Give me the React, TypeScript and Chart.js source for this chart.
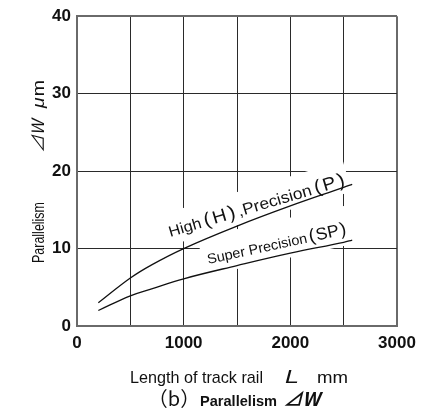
import React, { useEffect, useRef } from 'react';
import { Chart, registerables } from 'chart.js';

Chart.register(...registerables);

// ---- data ----
const lengths = [200, 500, 700, 1000, 1500, 2000, 2500, 2580];
const highPrecision = [3.0, 6.2, 7.9, 10.0, 12.9, 15.5, 17.9, 18.3];
const superPrecision = [2.0, 3.9, 4.8, 6.1, 7.8, 9.4, 10.8, 11.1];
const xTickLabels = ['0', '1000', '2000', '3000'];
const yTickLabels = ['0', '10', '20', '30', '40'];

const SANS = "'Liberation Sans', Arial, sans-serif";
const CJK = "'Noto Sans CJK JP', 'Liberation Sans', sans-serif";

type Seg = { t: string; font: string; gap?: number };
type Opts = {
  len?: number;
  align?: 'start' | 'center';
  bg?: { top: number; bottom: number; pad: number };
};

function drawGroup(
  ctx: CanvasRenderingContext2D,
  segs: Seg[],
  x: number,
  y: number,
  angle: number,
  opts: Opts = {}
) {
  ctx.save();
  ctx.translate(x, y);
  ctx.rotate(angle);
  const widths = segs.map((s) => {
    ctx.font = s.font;
    return ctx.measureText(s.t).width;
  });
  let natural = 0;
  segs.forEach((s, i) => {
    natural += widths[i] + (i < segs.length - 1 ? s.gap || 0 : 0);
  });
  const sx = opts.len ? opts.len / natural : 1;
  const drawnLen = natural * sx;
  const x0 = opts.align === 'center' ? -drawnLen / 2 : 0;
  if (opts.bg) {
    ctx.fillStyle = '#ffffff';
    ctx.fillRect(x0 - opts.bg.pad, opts.bg.top, drawnLen + opts.bg.pad * 2, opts.bg.bottom - opts.bg.top);
  }
  ctx.translate(x0, 0);
  ctx.scale(sx, 1);
  ctx.textBaseline = 'alphabetic';
  ctx.textAlign = 'left';
  ctx.fillStyle = '#111111';
  let cx = 0;
  segs.forEach((s, i) => {
    ctx.font = s.font;
    ctx.fillText(s.t, cx, 0);
    cx += widths[i] + (s.gap || 0);
  });
  ctx.restore();
}

const deg = (d: number) => (d * Math.PI) / 180;

const labelPlugin = {
  id: 'curveLabels',
  beforeDatasetsDraw(chart: any) {
    const ctx = chart.ctx as CanvasRenderingContext2D;
    const xs = chart.scales.x;
    const ys = chart.scales.y;
    // High (H), Precision (P)
    drawGroup(
      ctx,
      [
        { t: 'High', font: `15px ${SANS}`, gap: 3 },
        { t: '(', font: `19px ${SANS}`, gap: 2 },
        { t: 'H', font: `18px ${SANS}`, gap: 2 },
        { t: ')', font: `19px ${SANS}`, gap: 3 },
        { t: ',Precision', font: `16px ${SANS}`, gap: 3 },
        { t: '(', font: `19px ${SANS}`, gap: 2 },
        { t: 'P', font: `18px ${SANS}`, gap: 2 },
        { t: ')', font: `19px ${SANS}` },
      ],
      xs.getPixelForValue(875),
      ys.getPixelForValue(11.5),
      deg(-16.5),
      { len: 183, bg: { top: -24, bottom: 8, pad: 4 } }
    );
    // Super Precision (SP)
    drawGroup(
      ctx,
      [
        { t: 'Super Precision', font: `14px ${SANS}`, gap: 2 },
        { t: '(', font: `18px ${SANS}`, gap: 1 },
        { t: 'SP', font: `17px ${SANS}`, gap: 1 },
        { t: ')', font: `18px ${SANS}` },
      ],
      xs.getPixelForValue(1230),
      ys.getPixelForValue(8.0),
      deg(-12.2),
      { len: 142, bg: { top: -28, bottom: 11, pad: 5 } }
    );
  },
  afterDraw(chart: any) {
    const ctx = chart.ctx as CanvasRenderingContext2D;
    // y-axis title (rotated)
    drawGroup(ctx, [{ t: 'Parallelism', font: `16px ${SANS}` }], 44, 263, -Math.PI / 2, { len: 61 });
    drawGroup(ctx, [{ t: '⊿W', font: `italic 17px ${CJK}` }], 44, 153, -Math.PI / 2, { len: 33 });
    drawGroup(
      ctx,
      [
        { t: 'μ', font: `italic 16px ${SANS}`, gap: 1 },
        { t: 'm', font: `16px ${SANS}` },
      ],
      44,
      108,
      -Math.PI / 2,
      { len: 28 }
    );
    // x-axis title
    drawGroup(ctx, [{ t: 'Length of track rail', font: `17px ${SANS}` }], 130, 382.5, 0, { len: 133 });
    drawGroup(ctx, [{ t: 'L', font: `italic 18px ${SANS}` }], 285, 382.5, 0, { len: 14 });
    drawGroup(ctx, [{ t: 'mm', font: `17px ${SANS}` }], 317, 382.5, 0, { len: 31 });
    // caption
    drawGroup(ctx, [{ t: '（b）', font: `20px ${CJK}` }], 174, 406, 0, { align: 'center' });
    drawGroup(ctx, [{ t: 'Parallelism', font: `bold 15px ${SANS}` }], 200, 406, 0, { len: 77 });
    drawGroup(ctx, [{ t: '⊿W', font: `italic bold 19px ${CJK}` }], 283, 406, 0, { len: 37 });
  },
};

export default function App() {
  const ref = useRef<HTMLCanvasElement | null>(null);

  useEffect(() => {
    document.body.style.margin = '0';
    const canvas = ref.current;
    if (!canvas) return;
    const chart = new Chart(canvas, {
      type: 'line',
      data: {
        datasets: [
          {
            label: 'High (H), Precision (P)',
            data: lengths.map((x, i) => ({ x, y: highPrecision[i] })),
            borderColor: '#111111',
            borderWidth: 1.3,
            pointRadius: 0,
            tension: 0.4,
            fill: false,
          },
          {
            label: 'Super Precision (SP)',
            data: lengths.map((x, i) => ({ x, y: superPrecision[i] })),
            borderColor: '#111111',
            borderWidth: 1.3,
            pointRadius: 0,
            tension: 0.4,
            fill: false,
          },
        ],
      },
      options: {
        responsive: false,
        animation: false,
        devicePixelRatio: 1,
        layout: { padding: { top: 14, right: 41, left: 0, bottom: 0 } },
        plugins: {
          legend: { display: false },
          tooltip: { enabled: false },
        },
        scales: {
          x: {
            type: 'linear',
            min: 0,
            max: 3000,
            afterFit: (s: any) => {
              s.height = 86;
            },
            ticks: {
              stepSize: 500,
              autoSkip: false,
              maxRotation: 0,
              padding: 7,
              color: '#111111',
              font: { family: SANS, size: 17, weight: 'bold' },
              callback: (v: any) => (xTickLabels.includes(String(v)) ? String(v) : ''),
            },
            grid: {
              drawTicks: false,
              color: (c: any) => (c.tick && c.tick.value === 3000 ? '#6a6a6a' : '#2a2a2a'),
              lineWidth: (c: any) => (c.tick && c.tick.value === 3000 ? 2 : 1),
            },
            border: { color: '#6a6a6a', width: 2 },
          },
          y: {
            type: 'linear',
            min: 0,
            max: 40,
            afterFit: (s: any) => {
              s.width = 77;
            },
            ticks: {
              stepSize: 10,
              padding: 6,
              color: '#111111',
              font: { family: SANS, size: 17, weight: 'bold' },
              callback: (v: any) => (yTickLabels.includes(String(v)) ? String(v) : ''),
            },
            grid: {
              drawTicks: false,
              color: (c: any) => (c.tick && c.tick.value === 40 ? '#6a6a6a' : '#2a2a2a'),
              lineWidth: (c: any) => (c.tick && c.tick.value === 40 ? 2 : 1),
            },
            border: { color: '#6a6a6a', width: 2 },
          },
        },
      },
      plugins: [labelPlugin],
    } as any);
    return () => chart.destroy();
  }, []);

  return (
    <div style={{ position: 'fixed', left: 0, top: 0, width: 438, height: 412, background: '#fff' }}>
      <canvas ref={ref} width={438} height={412} style={{ display: 'block' }} />
    </div>
  );
}
